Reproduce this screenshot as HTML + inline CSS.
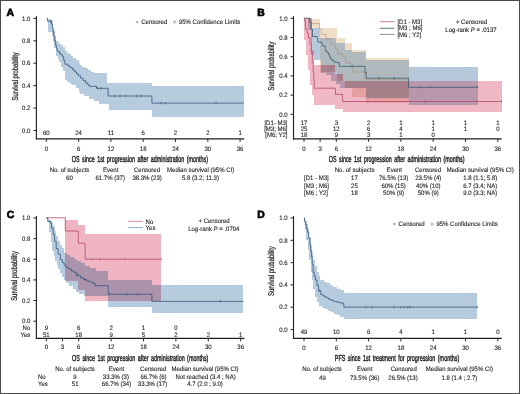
<!DOCTYPE html>
<html><head><meta charset="utf-8"><style>
html,body{margin:0;padding:0;background:#fff;}
.wrap{position:relative;width:520px;height:394px;overflow:hidden;background:#fff;}
.frame{position:absolute;left:0;top:0;width:518px;height:392px;border:1px solid #4a4a4a;}
svg{position:absolute;left:0;top:0;font-family:"Liberation Sans", sans-serif;text-rendering:geometricPrecision;will-change:transform;}
</style></head><body>
<div class="wrap"><svg width="520" height="394" viewBox="0 0 520 394">
<rect x="47.50" y="19.00" width="3.00" height="13.00" fill="#b7cbdf" shape-rendering="crispEdges"/>
<rect x="50.50" y="19.50" width="1.30" height="12.50" fill="#b7cbdf" shape-rendering="crispEdges"/>
<rect x="51.80" y="19.50" width="1.20" height="16.50" fill="#b7cbdf" shape-rendering="crispEdges"/>
<rect x="53.00" y="30.00" width="1.10" height="12.00" fill="#b7cbdf" shape-rendering="crispEdges"/>
<rect x="54.10" y="30.00" width="0.80" height="18.20" fill="#b7cbdf" shape-rendering="crispEdges"/>
<rect x="54.90" y="36.00" width="0.70" height="12.20" fill="#b7cbdf" shape-rendering="crispEdges"/>
<rect x="55.60" y="40.60" width="1.90" height="15.20" fill="#b7cbdf" shape-rendering="crispEdges"/>
<rect x="57.50" y="42.10" width="1.90" height="16.70" fill="#b7cbdf" shape-rendering="crispEdges"/>
<rect x="59.40" y="43.50" width="1.90" height="18.40" fill="#b7cbdf" shape-rendering="crispEdges"/>
<rect x="61.30" y="45.10" width="1.90" height="21.40" fill="#b7cbdf" shape-rendering="crispEdges"/>
<rect x="63.20" y="47.00" width="1.60" height="24.00" fill="#b7cbdf" shape-rendering="crispEdges"/>
<rect x="64.80" y="51.20" width="2.20" height="29.00" fill="#b7cbdf" shape-rendering="crispEdges"/>
<rect x="67.00" y="53.00" width="0.20" height="27.20" fill="#b7cbdf" shape-rendering="crispEdges"/>
<rect x="67.20" y="53.00" width="2.10" height="29.00" fill="#b7cbdf" shape-rendering="crispEdges"/>
<rect x="69.30" y="54.30" width="0.30" height="27.70" fill="#b7cbdf" shape-rendering="crispEdges"/>
<rect x="69.60" y="54.30" width="1.60" height="29.20" fill="#b7cbdf" shape-rendering="crispEdges"/>
<rect x="71.20" y="56.20" width="1.20" height="27.30" fill="#b7cbdf" shape-rendering="crispEdges"/>
<rect x="72.40" y="56.20" width="0.70" height="28.50" fill="#b7cbdf" shape-rendering="crispEdges"/>
<rect x="73.10" y="58.10" width="2.70" height="26.60" fill="#b7cbdf" shape-rendering="crispEdges"/>
<rect x="75.80" y="60.30" width="2.70" height="28.00" fill="#b7cbdf" shape-rendering="crispEdges"/>
<rect x="78.50" y="62.60" width="0.70" height="25.70" fill="#b7cbdf" shape-rendering="crispEdges"/>
<rect x="79.20" y="62.60" width="0.80" height="29.40" fill="#b7cbdf" shape-rendering="crispEdges"/>
<rect x="80.00" y="62.60" width="0.40" height="31.30" fill="#b7cbdf" shape-rendering="crispEdges"/>
<rect x="80.40" y="64.60" width="1.90" height="29.30" fill="#b7cbdf" shape-rendering="crispEdges"/>
<rect x="82.30" y="66.50" width="2.10" height="27.40" fill="#b7cbdf" shape-rendering="crispEdges"/>
<rect x="84.40" y="66.50" width="0.60" height="29.90" fill="#b7cbdf" shape-rendering="crispEdges"/>
<rect x="85.00" y="68.40" width="2.60" height="28.00" fill="#b7cbdf" shape-rendering="crispEdges"/>
<rect x="87.60" y="70.30" width="1.20" height="26.10" fill="#b7cbdf" shape-rendering="crispEdges"/>
<rect x="88.80" y="70.30" width="1.80" height="28.50" fill="#b7cbdf" shape-rendering="crispEdges"/>
<rect x="90.60" y="71.80" width="3.00" height="27.00" fill="#b7cbdf" shape-rendering="crispEdges"/>
<rect x="93.60" y="71.80" width="0.10" height="29.40" fill="#b7cbdf" shape-rendering="crispEdges"/>
<rect x="93.70" y="73.10" width="4.80" height="28.10" fill="#b7cbdf" shape-rendering="crispEdges"/>
<rect x="98.50" y="73.10" width="8.60" height="30.60" fill="#b7cbdf" shape-rendering="crispEdges"/>
<rect x="107.10" y="82.50" width="1.90" height="21.20" fill="#b7cbdf" shape-rendering="crispEdges"/>
<rect x="109.00" y="82.50" width="42.90" height="27.90" fill="#b7cbdf" shape-rendering="crispEdges"/>
<rect x="151.90" y="86.30" width="91.80" height="30.80" fill="#b7cbdf" shape-rendering="crispEdges"/>
<path d="M46.30,18.40 H47.50 V21.30 H51.50 V24.00 H52.40 V28.00 H53.20 V32.00 H53.80 V36.00 H54.70 V40.50 H55.60 V45.10 H56.30 V48.00 H57.10 V51.20 H59.40 V53.50 H61.00 V55.00 H62.50 V56.60 H63.70 V60.40 H64.80 V64.20 H67.80 V65.70 H69.30 V66.80 H70.80 V68.00 H72.70 V69.90 H74.60 V71.80 H76.50 V73.80 H78.40 V75.80 H80.70 V78.20 H83.10 V80.60 H85.50 V82.80 H87.90 V85.00 H89.50 V86.30 H96.50 V88.30 H108.10 V96.00 H151.90 V103.10 H243.70" fill="none" stroke="#2b5277" stroke-width="0.75"/>
<line x1="50.50" y1="20.00" x2="50.50" y2="22.60" stroke="#2b5277" stroke-width="0.55" />
<line x1="97.50" y1="87.00" x2="97.50" y2="89.60" stroke="#2b5277" stroke-width="0.55" />
<line x1="101.00" y1="87.00" x2="101.00" y2="89.60" stroke="#2b5277" stroke-width="0.55" />
<line x1="115.00" y1="94.70" x2="115.00" y2="97.30" stroke="#2b5277" stroke-width="0.55" />
<line x1="120.00" y1="94.70" x2="120.00" y2="97.30" stroke="#2b5277" stroke-width="0.55" />
<line x1="126.00" y1="94.70" x2="126.00" y2="97.30" stroke="#2b5277" stroke-width="0.55" />
<line x1="136.50" y1="94.70" x2="136.50" y2="97.30" stroke="#2b5277" stroke-width="0.55" />
<line x1="141.00" y1="94.70" x2="141.00" y2="97.30" stroke="#2b5277" stroke-width="0.55" />
<line x1="161.00" y1="101.80" x2="161.00" y2="104.40" stroke="#2b5277" stroke-width="0.55" />
<line x1="165.50" y1="101.80" x2="165.50" y2="104.40" stroke="#2b5277" stroke-width="0.55" />
<line x1="216.00" y1="101.80" x2="216.00" y2="104.40" stroke="#2b5277" stroke-width="0.55" />
<line x1="36.40" y1="16.20" x2="36.40" y2="139.20" stroke="#231f20" stroke-width="1.15" />
<line x1="33.40" y1="130.50" x2="36.40" y2="130.50" stroke="#231f20" stroke-width="0.95" />
<text transform="translate(30.40,132.75) scale(0.94,1)" text-anchor="end" font-size="6.4" fill="#231f20" stroke="#231f20" stroke-width="0.12" >0.0</text>
<line x1="33.40" y1="108.08" x2="36.40" y2="108.08" stroke="#231f20" stroke-width="0.95" />
<text transform="translate(30.40,110.33) scale(0.94,1)" text-anchor="end" font-size="6.4" fill="#231f20" stroke="#231f20" stroke-width="0.12" >0.2</text>
<line x1="33.40" y1="85.66" x2="36.40" y2="85.66" stroke="#231f20" stroke-width="0.95" />
<text transform="translate(30.40,87.91) scale(0.94,1)" text-anchor="end" font-size="6.4" fill="#231f20" stroke="#231f20" stroke-width="0.12" >0.4</text>
<line x1="33.40" y1="63.24" x2="36.40" y2="63.24" stroke="#231f20" stroke-width="0.95" />
<text transform="translate(30.40,65.49) scale(0.94,1)" text-anchor="end" font-size="6.4" fill="#231f20" stroke="#231f20" stroke-width="0.12" >0.6</text>
<line x1="33.40" y1="40.82" x2="36.40" y2="40.82" stroke="#231f20" stroke-width="0.95" />
<text transform="translate(30.40,43.07) scale(0.94,1)" text-anchor="end" font-size="6.4" fill="#231f20" stroke="#231f20" stroke-width="0.12" >0.8</text>
<line x1="33.40" y1="18.40" x2="36.40" y2="18.40" stroke="#231f20" stroke-width="0.95" />
<text transform="translate(30.40,20.65) scale(0.94,1)" text-anchor="end" font-size="6.4" fill="#231f20" stroke="#231f20" stroke-width="0.12" >1.0</text>
<line x1="35.85" y1="138.90" x2="244.20" y2="138.90" stroke="#231f20" stroke-width="1.15" />
<line x1="46.30" y1="138.90" x2="46.30" y2="141.90" stroke="#231f20" stroke-width="0.95" />
<text transform="translate(46.30,150.55) scale(0.94,1)" text-anchor="middle" font-size="6.4" fill="#231f20" stroke="#231f20" stroke-width="0.12" >0</text>
<line x1="78.60" y1="138.90" x2="78.60" y2="141.90" stroke="#231f20" stroke-width="0.95" />
<text transform="translate(78.60,150.55) scale(0.94,1)" text-anchor="middle" font-size="6.4" fill="#231f20" stroke="#231f20" stroke-width="0.12" >6</text>
<line x1="110.90" y1="138.90" x2="110.90" y2="141.90" stroke="#231f20" stroke-width="0.95" />
<text transform="translate(110.90,150.55) scale(0.94,1)" text-anchor="middle" font-size="6.4" fill="#231f20" stroke="#231f20" stroke-width="0.12" >12</text>
<line x1="143.20" y1="138.90" x2="143.20" y2="141.90" stroke="#231f20" stroke-width="0.95" />
<text transform="translate(143.20,150.55) scale(0.94,1)" text-anchor="middle" font-size="6.4" fill="#231f20" stroke="#231f20" stroke-width="0.12" >18</text>
<line x1="175.50" y1="138.90" x2="175.50" y2="141.90" stroke="#231f20" stroke-width="0.95" />
<text transform="translate(175.50,150.55) scale(0.94,1)" text-anchor="middle" font-size="6.4" fill="#231f20" stroke="#231f20" stroke-width="0.12" >24</text>
<line x1="207.80" y1="138.90" x2="207.80" y2="141.90" stroke="#231f20" stroke-width="0.95" />
<text transform="translate(207.80,150.55) scale(0.94,1)" text-anchor="middle" font-size="6.4" fill="#231f20" stroke="#231f20" stroke-width="0.12" >30</text>
<line x1="240.10" y1="138.90" x2="240.10" y2="141.90" stroke="#231f20" stroke-width="0.95" />
<text transform="translate(240.10,150.55) scale(0.94,1)" text-anchor="middle" font-size="6.4" fill="#231f20" stroke="#231f20" stroke-width="0.12" >36</text>
<text transform="translate(46.30,135.25) scale(0.94,1)" text-anchor="middle" font-size="6.4" fill="#231f20" stroke="#231f20" stroke-width="0.12" >60</text>
<text transform="translate(78.60,135.25) scale(0.94,1)" text-anchor="middle" font-size="6.4" fill="#231f20" stroke="#231f20" stroke-width="0.12" >24</text>
<text transform="translate(110.90,135.25) scale(0.94,1)" text-anchor="middle" font-size="6.4" fill="#231f20" stroke="#231f20" stroke-width="0.12" >11</text>
<text transform="translate(143.20,135.25) scale(0.94,1)" text-anchor="middle" font-size="6.4" fill="#231f20" stroke="#231f20" stroke-width="0.12" >6</text>
<text transform="translate(175.50,135.25) scale(0.94,1)" text-anchor="middle" font-size="6.4" fill="#231f20" stroke="#231f20" stroke-width="0.12" >2</text>
<text transform="translate(207.80,135.25) scale(0.94,1)" text-anchor="middle" font-size="6.4" fill="#231f20" stroke="#231f20" stroke-width="0.12" >2</text>
<text transform="translate(240.10,135.25) scale(0.94,1)" text-anchor="middle" font-size="6.4" fill="#231f20" stroke="#231f20" stroke-width="0.12" >1</text>
<text transform="translate(17.60,76.40) rotate(-90)" x="-24.00" y="0" font-size="8.4" textLength="48.00" lengthAdjust="spacingAndGlyphs" fill="#231f20" stroke="#231f20" stroke-width="0.25">Survival probability</text>
<text x="71.80" y="162.05" font-size="8.7" textLength="136.30" lengthAdjust="spacingAndGlyphs" word-spacing="1.6" fill="#231f20" stroke="#231f20" stroke-width="0.42" font-weight="normal">OS since 1st progression after administration (months)</text>
<text x="6.50" y="15.60" font-size="10.4" font-weight="bold" fill="#000" stroke="#000" stroke-width="0.7">A</text>
<line x1="137.20" y1="20.90" x2="137.20" y2="23.30" stroke="#2b5277" stroke-width="0.5" />
<line x1="136.00" y1="22.10" x2="138.40" y2="22.10" stroke="#2b5277" stroke-width="0.5" />
<text transform="translate(141.20,24.35) scale(0.94,1)" text-anchor="start" font-size="6.4" fill="#231f20" stroke="#231f20" stroke-width="0.12" >Censored</text>
<rect x="173.1" y="20.5" width="3.0" height="3.0" fill="#b7cbdf"/>
<text transform="translate(178.90,24.35) scale(0.94,1)" text-anchor="start" font-size="6.4" fill="#231f20" stroke="#231f20" stroke-width="0.12" >95% Confidence Limits</text>
<text transform="translate(69.50,171.65) scale(0.94,1)" text-anchor="middle" font-size="6.4" fill="#231f20" stroke="#231f20" stroke-width="0.12" >No. of subjects</text>
<text transform="translate(110.70,171.65) scale(0.94,1)" text-anchor="middle" font-size="6.4" fill="#231f20" stroke="#231f20" stroke-width="0.12" >Event</text>
<text transform="translate(147.00,171.65) scale(0.94,1)" text-anchor="middle" font-size="6.4" fill="#231f20" stroke="#231f20" stroke-width="0.12" >Censored</text>
<text transform="translate(200.60,171.65) scale(0.94,1)" text-anchor="middle" font-size="6.4" fill="#231f20" stroke="#231f20" stroke-width="0.12" >Median survival (95% CI)</text>
<text transform="translate(69.40,179.85) scale(0.94,1)" text-anchor="middle" font-size="6.4" fill="#231f20" stroke="#231f20" stroke-width="0.12" >60</text>
<text transform="translate(110.20,179.85) scale(0.94,1)" text-anchor="middle" font-size="6.4" fill="#231f20" stroke="#231f20" stroke-width="0.12" >61.7% (37)</text>
<text transform="translate(147.10,179.85) scale(0.94,1)" text-anchor="middle" font-size="6.4" fill="#231f20" stroke="#231f20" stroke-width="0.12" >38.3% (23)</text>
<text transform="translate(200.40,179.85) scale(0.94,1)" text-anchor="middle" font-size="6.4" fill="#231f20" stroke="#231f20" stroke-width="0.12" >5.8 (3.2; 11.3)</text>
<rect x="304.00" y="217.80" width="1.00" height="3.80" fill="#b7cbdf" shape-rendering="crispEdges"/>
<rect x="305.00" y="217.80" width="0.20" height="12.20" fill="#b7cbdf" shape-rendering="crispEdges"/>
<rect x="305.20" y="220.50" width="0.90" height="9.50" fill="#b7cbdf" shape-rendering="crispEdges"/>
<rect x="306.10" y="220.50" width="0.40" height="19.40" fill="#b7cbdf" shape-rendering="crispEdges"/>
<rect x="306.50" y="224.00" width="1.10" height="15.90" fill="#b7cbdf" shape-rendering="crispEdges"/>
<rect x="307.60" y="224.00" width="0.20" height="26.00" fill="#b7cbdf" shape-rendering="crispEdges"/>
<rect x="307.80" y="229.20" width="1.30" height="20.80" fill="#b7cbdf" shape-rendering="crispEdges"/>
<rect x="309.10" y="229.20" width="0.10" height="30.50" fill="#b7cbdf" shape-rendering="crispEdges"/>
<rect x="309.20" y="236.50" width="1.40" height="23.20" fill="#b7cbdf" shape-rendering="crispEdges"/>
<rect x="310.60" y="244.50" width="0.10" height="15.20" fill="#b7cbdf" shape-rendering="crispEdges"/>
<rect x="310.70" y="244.50" width="0.80" height="27.40" fill="#b7cbdf" shape-rendering="crispEdges"/>
<rect x="311.50" y="244.50" width="0.40" height="35.50" fill="#b7cbdf" shape-rendering="crispEdges"/>
<rect x="311.90" y="252.00" width="1.30" height="28.00" fill="#b7cbdf" shape-rendering="crispEdges"/>
<rect x="313.20" y="260.00" width="0.20" height="20.00" fill="#b7cbdf" shape-rendering="crispEdges"/>
<rect x="313.40" y="260.00" width="1.40" height="28.50" fill="#b7cbdf" shape-rendering="crispEdges"/>
<rect x="314.80" y="266.00" width="0.60" height="22.50" fill="#b7cbdf" shape-rendering="crispEdges"/>
<rect x="315.40" y="266.00" width="1.10" height="30.90" fill="#b7cbdf" shape-rendering="crispEdges"/>
<rect x="316.50" y="272.30" width="0.80" height="24.60" fill="#b7cbdf" shape-rendering="crispEdges"/>
<rect x="317.30" y="272.30" width="1.20" height="29.20" fill="#b7cbdf" shape-rendering="crispEdges"/>
<rect x="318.50" y="276.00" width="0.70" height="25.50" fill="#b7cbdf" shape-rendering="crispEdges"/>
<rect x="319.20" y="276.00" width="0.80" height="30.20" fill="#b7cbdf" shape-rendering="crispEdges"/>
<rect x="320.00" y="280.00" width="2.00" height="26.20" fill="#b7cbdf" shape-rendering="crispEdges"/>
<rect x="322.00" y="280.00" width="1.50" height="27.70" fill="#b7cbdf" shape-rendering="crispEdges"/>
<rect x="323.50" y="281.60" width="1.10" height="26.10" fill="#b7cbdf" shape-rendering="crispEdges"/>
<rect x="324.60" y="281.60" width="2.30" height="27.60" fill="#b7cbdf" shape-rendering="crispEdges"/>
<rect x="326.90" y="283.10" width="0.80" height="26.10" fill="#b7cbdf" shape-rendering="crispEdges"/>
<rect x="327.70" y="283.10" width="2.30" height="27.60" fill="#b7cbdf" shape-rendering="crispEdges"/>
<rect x="330.00" y="285.00" width="0.80" height="25.70" fill="#b7cbdf" shape-rendering="crispEdges"/>
<rect x="330.80" y="285.00" width="2.30" height="27.30" fill="#b7cbdf" shape-rendering="crispEdges"/>
<rect x="333.10" y="286.90" width="0.80" height="25.40" fill="#b7cbdf" shape-rendering="crispEdges"/>
<rect x="333.90" y="286.90" width="3.00" height="26.60" fill="#b7cbdf" shape-rendering="crispEdges"/>
<rect x="336.90" y="286.90" width="0.10" height="27.70" fill="#b7cbdf" shape-rendering="crispEdges"/>
<rect x="337.00" y="288.50" width="3.30" height="26.10" fill="#b7cbdf" shape-rendering="crispEdges"/>
<rect x="340.30" y="288.50" width="0.50" height="28.10" fill="#b7cbdf" shape-rendering="crispEdges"/>
<rect x="340.80" y="290.00" width="3.00" height="26.60" fill="#b7cbdf" shape-rendering="crispEdges"/>
<rect x="343.80" y="293.20" width="132.70" height="25.40" fill="#b7cbdf" shape-rendering="crispEdges"/>
<path d="M303.80,217.80 H304.50 V221.00 H305.30 V224.70 H306.40 V228.50 H307.60 V232.30 H308.70 V238.40 H309.90 V244.50 H310.60 V250.50 H311.40 V256.60 H312.20 V264.40 H313.10 V272.30 H314.20 V276.10 H315.40 V280.00 H317.00 V285.40 H318.50 V290.80 H320.80 V294.60 H322.70 V295.70 H324.60 V296.90 H326.50 V298.00 H328.50 V299.20 H331.10 V300.30 H333.80 V301.50 H337.30 V302.30 H340.80 V303.10 H343.80 V307.10 H477.40" fill="none" stroke="#2b5277" stroke-width="0.75"/>
<line x1="319.50" y1="289.50" x2="319.50" y2="292.10" stroke="#2b5277" stroke-width="0.55" />
<line x1="366.00" y1="305.80" x2="366.00" y2="308.40" stroke="#2b5277" stroke-width="0.55" />
<line x1="372.00" y1="305.80" x2="372.00" y2="308.40" stroke="#2b5277" stroke-width="0.55" />
<line x1="393.80" y1="305.80" x2="393.80" y2="308.40" stroke="#2b5277" stroke-width="0.55" />
<line x1="400.80" y1="305.80" x2="400.80" y2="308.40" stroke="#2b5277" stroke-width="0.55" />
<line x1="404.20" y1="305.80" x2="404.20" y2="308.40" stroke="#2b5277" stroke-width="0.55" />
<line x1="407.70" y1="305.80" x2="407.70" y2="308.40" stroke="#2b5277" stroke-width="0.55" />
<line x1="410.00" y1="305.80" x2="410.00" y2="308.40" stroke="#2b5277" stroke-width="0.55" />
<line x1="477.40" y1="305.80" x2="477.40" y2="308.40" stroke="#2b5277" stroke-width="0.55" />
<line x1="293.50" y1="216.00" x2="293.50" y2="339.00" stroke="#231f20" stroke-width="1.15" />
<line x1="290.50" y1="329.50" x2="293.50" y2="329.50" stroke="#231f20" stroke-width="0.95" />
<text transform="translate(287.50,331.75) scale(0.94,1)" text-anchor="end" font-size="6.4" fill="#231f20" stroke="#231f20" stroke-width="0.12" >0.0</text>
<line x1="290.50" y1="307.20" x2="293.50" y2="307.20" stroke="#231f20" stroke-width="0.95" />
<text transform="translate(287.50,309.45) scale(0.94,1)" text-anchor="end" font-size="6.4" fill="#231f20" stroke="#231f20" stroke-width="0.12" >0.2</text>
<line x1="290.50" y1="284.90" x2="293.50" y2="284.90" stroke="#231f20" stroke-width="0.95" />
<text transform="translate(287.50,287.15) scale(0.94,1)" text-anchor="end" font-size="6.4" fill="#231f20" stroke="#231f20" stroke-width="0.12" >0.4</text>
<line x1="290.50" y1="262.60" x2="293.50" y2="262.60" stroke="#231f20" stroke-width="0.95" />
<text transform="translate(287.50,264.85) scale(0.94,1)" text-anchor="end" font-size="6.4" fill="#231f20" stroke="#231f20" stroke-width="0.12" >0.6</text>
<line x1="290.50" y1="240.30" x2="293.50" y2="240.30" stroke="#231f20" stroke-width="0.95" />
<text transform="translate(287.50,242.55) scale(0.94,1)" text-anchor="end" font-size="6.4" fill="#231f20" stroke="#231f20" stroke-width="0.12" >0.8</text>
<line x1="290.50" y1="218.00" x2="293.50" y2="218.00" stroke="#231f20" stroke-width="0.95" />
<text transform="translate(287.50,220.25) scale(0.94,1)" text-anchor="end" font-size="6.4" fill="#231f20" stroke="#231f20" stroke-width="0.12" >1.0</text>
<line x1="292.95" y1="338.40" x2="501.70" y2="338.40" stroke="#231f20" stroke-width="1.15" />
<line x1="304.00" y1="338.40" x2="304.00" y2="341.40" stroke="#231f20" stroke-width="0.95" />
<text transform="translate(304.00,349.75) scale(0.94,1)" text-anchor="middle" font-size="6.4" fill="#231f20" stroke="#231f20" stroke-width="0.12" >0</text>
<line x1="336.30" y1="338.40" x2="336.30" y2="341.40" stroke="#231f20" stroke-width="0.95" />
<text transform="translate(336.30,349.75) scale(0.94,1)" text-anchor="middle" font-size="6.4" fill="#231f20" stroke="#231f20" stroke-width="0.12" >6</text>
<line x1="368.60" y1="338.40" x2="368.60" y2="341.40" stroke="#231f20" stroke-width="0.95" />
<text transform="translate(368.60,349.75) scale(0.94,1)" text-anchor="middle" font-size="6.4" fill="#231f20" stroke="#231f20" stroke-width="0.12" >12</text>
<line x1="400.90" y1="338.40" x2="400.90" y2="341.40" stroke="#231f20" stroke-width="0.95" />
<text transform="translate(400.90,349.75) scale(0.94,1)" text-anchor="middle" font-size="6.4" fill="#231f20" stroke="#231f20" stroke-width="0.12" >18</text>
<line x1="433.20" y1="338.40" x2="433.20" y2="341.40" stroke="#231f20" stroke-width="0.95" />
<text transform="translate(433.20,349.75) scale(0.94,1)" text-anchor="middle" font-size="6.4" fill="#231f20" stroke="#231f20" stroke-width="0.12" >24</text>
<line x1="465.50" y1="338.40" x2="465.50" y2="341.40" stroke="#231f20" stroke-width="0.95" />
<text transform="translate(465.50,349.75) scale(0.94,1)" text-anchor="middle" font-size="6.4" fill="#231f20" stroke="#231f20" stroke-width="0.12" >30</text>
<line x1="497.80" y1="338.40" x2="497.80" y2="341.40" stroke="#231f20" stroke-width="0.95" />
<text transform="translate(497.80,349.75) scale(0.94,1)" text-anchor="middle" font-size="6.4" fill="#231f20" stroke="#231f20" stroke-width="0.12" >36</text>
<text transform="translate(304.00,334.35) scale(0.94,1)" text-anchor="middle" font-size="6.4" fill="#231f20" stroke="#231f20" stroke-width="0.12" >49</text>
<text transform="translate(336.30,334.35) scale(0.94,1)" text-anchor="middle" font-size="6.4" fill="#231f20" stroke="#231f20" stroke-width="0.12" >10</text>
<text transform="translate(368.60,334.35) scale(0.94,1)" text-anchor="middle" font-size="6.4" fill="#231f20" stroke="#231f20" stroke-width="0.12" >6</text>
<text transform="translate(400.90,334.35) scale(0.94,1)" text-anchor="middle" font-size="6.4" fill="#231f20" stroke="#231f20" stroke-width="0.12" >4</text>
<text transform="translate(433.20,334.35) scale(0.94,1)" text-anchor="middle" font-size="6.4" fill="#231f20" stroke="#231f20" stroke-width="0.12" >1</text>
<text transform="translate(465.50,334.35) scale(0.94,1)" text-anchor="middle" font-size="6.4" fill="#231f20" stroke="#231f20" stroke-width="0.12" >1</text>
<text transform="translate(497.80,334.35) scale(0.94,1)" text-anchor="middle" font-size="6.4" fill="#231f20" stroke="#231f20" stroke-width="0.12" >0</text>
<text transform="translate(274.10,271.10) rotate(-90)" x="-24.90" y="0" font-size="8.4" textLength="49.80" lengthAdjust="spacingAndGlyphs" fill="#231f20" stroke="#231f20" stroke-width="0.25">Survival probability</text>
<text x="334.80" y="360.85" font-size="8.7" textLength="124.40" lengthAdjust="spacingAndGlyphs" word-spacing="1.6" fill="#231f20" stroke="#231f20" stroke-width="0.42" font-weight="normal">PFS since 1st treatment for progression (months)</text>
<text x="257.30" y="218.10" font-size="10.4" font-weight="bold" fill="#000" stroke="#000" stroke-width="0.7">D</text>
<line x1="394.40" y1="222.80" x2="394.40" y2="225.20" stroke="#2b5277" stroke-width="0.5" />
<line x1="393.20" y1="224.00" x2="395.60" y2="224.00" stroke="#2b5277" stroke-width="0.5" />
<text transform="translate(398.60,226.25) scale(0.94,1)" text-anchor="start" font-size="6.4" fill="#231f20" stroke="#231f20" stroke-width="0.12" >Censored</text>
<rect x="430.7" y="222.5" width="3.0" height="3.0" fill="#b7cbdf"/>
<text transform="translate(436.40,226.25) scale(0.94,1)" text-anchor="start" font-size="6.4" fill="#231f20" stroke="#231f20" stroke-width="0.12" >95% Confidence Limits</text>
<text transform="translate(322.00,371.15) scale(0.94,1)" text-anchor="middle" font-size="6.4" fill="#231f20" stroke="#231f20" stroke-width="0.12" >No. of subjects</text>
<text transform="translate(364.70,371.15) scale(0.94,1)" text-anchor="middle" font-size="6.4" fill="#231f20" stroke="#231f20" stroke-width="0.12" >Event</text>
<text transform="translate(403.70,371.15) scale(0.94,1)" text-anchor="middle" font-size="6.4" fill="#231f20" stroke="#231f20" stroke-width="0.12" >Censored</text>
<text transform="translate(459.40,371.15) scale(0.94,1)" text-anchor="middle" font-size="6.4" fill="#231f20" stroke="#231f20" stroke-width="0.12" >Median survival (95% CI)</text>
<text transform="translate(322.40,379.65) scale(0.94,1)" text-anchor="middle" font-size="6.4" fill="#231f20" stroke="#231f20" stroke-width="0.12" >49</text>
<text transform="translate(364.70,379.65) scale(0.94,1)" text-anchor="middle" font-size="6.4" fill="#231f20" stroke="#231f20" stroke-width="0.12" >73.5% (36)</text>
<text transform="translate(403.00,379.65) scale(0.94,1)" text-anchor="middle" font-size="6.4" fill="#231f20" stroke="#231f20" stroke-width="0.12" >26.5% (13)</text>
<text transform="translate(459.40,379.65) scale(0.94,1)" text-anchor="middle" font-size="6.4" fill="#231f20" stroke="#231f20" stroke-width="0.12" >1.8 (1.4 ; 2.7)</text>
<rect x="47.70" y="218.50" width="0.90" height="3.60" fill="#b7cbdf" shape-rendering="crispEdges"/>
<rect x="48.60" y="218.50" width="0.50" height="8.50" fill="#b7cbdf" shape-rendering="crispEdges"/>
<rect x="49.10" y="220.10" width="1.50" height="12.20" fill="#b7cbdf" shape-rendering="crispEdges"/>
<rect x="50.60" y="220.10" width="0.40" height="21.40" fill="#b7cbdf" shape-rendering="crispEdges"/>
<rect x="51.00" y="223.00" width="1.10" height="18.50" fill="#b7cbdf" shape-rendering="crispEdges"/>
<rect x="52.10" y="223.00" width="1.00" height="27.60" fill="#b7cbdf" shape-rendering="crispEdges"/>
<rect x="53.10" y="226.20" width="0.50" height="24.40" fill="#b7cbdf" shape-rendering="crispEdges"/>
<rect x="53.60" y="226.20" width="1.00" height="29.40" fill="#b7cbdf" shape-rendering="crispEdges"/>
<rect x="54.60" y="231.30" width="0.60" height="24.30" fill="#b7cbdf" shape-rendering="crispEdges"/>
<rect x="55.20" y="231.30" width="1.00" height="29.40" fill="#b7cbdf" shape-rendering="crispEdges"/>
<rect x="56.20" y="236.40" width="0.50" height="24.30" fill="#b7cbdf" shape-rendering="crispEdges"/>
<rect x="56.70" y="236.40" width="1.50" height="28.40" fill="#b7cbdf" shape-rendering="crispEdges"/>
<rect x="58.20" y="240.50" width="2.10" height="28.40" fill="#b7cbdf" shape-rendering="crispEdges"/>
<rect x="60.30" y="244.50" width="2.00" height="28.50" fill="#b7cbdf" shape-rendering="crispEdges"/>
<rect x="62.30" y="248.00" width="2.00" height="29.00" fill="#b7cbdf" shape-rendering="crispEdges"/>
<rect x="64.30" y="252.60" width="1.00" height="27.40" fill="#b7cbdf" shape-rendering="crispEdges"/>
<rect x="65.30" y="220.30" width="1.10" height="32.30" fill="#efb5c3" shape-rendering="crispEdges"/>
<rect x="65.30" y="252.60" width="1.10" height="27.40" fill="#ab94ab" shape-rendering="crispEdges"/>
<rect x="65.30" y="280.00" width="1.10" height="1.00" fill="#efb5c3" shape-rendering="crispEdges"/>
<rect x="66.40" y="220.30" width="1.00" height="32.30" fill="#efb5c3" shape-rendering="crispEdges"/>
<rect x="66.40" y="252.60" width="1.00" height="28.40" fill="#ab94ab" shape-rendering="crispEdges"/>
<rect x="66.40" y="281.00" width="1.00" height="2.10" fill="#b7cbdf" shape-rendering="crispEdges"/>
<rect x="67.40" y="220.30" width="2.00" height="34.40" fill="#efb5c3" shape-rendering="crispEdges"/>
<rect x="67.40" y="254.70" width="2.00" height="26.30" fill="#ab94ab" shape-rendering="crispEdges"/>
<rect x="67.40" y="281.00" width="2.00" height="2.10" fill="#b7cbdf" shape-rendering="crispEdges"/>
<rect x="69.40" y="220.30" width="1.00" height="34.40" fill="#efb5c3" shape-rendering="crispEdges"/>
<rect x="69.40" y="254.70" width="1.00" height="26.30" fill="#ab94ab" shape-rendering="crispEdges"/>
<rect x="69.40" y="281.00" width="1.00" height="5.10" fill="#b7cbdf" shape-rendering="crispEdges"/>
<rect x="70.40" y="220.30" width="2.10" height="36.40" fill="#efb5c3" shape-rendering="crispEdges"/>
<rect x="70.40" y="256.70" width="2.10" height="24.30" fill="#ab94ab" shape-rendering="crispEdges"/>
<rect x="70.40" y="281.00" width="2.10" height="5.10" fill="#b7cbdf" shape-rendering="crispEdges"/>
<rect x="72.50" y="220.30" width="1.00" height="36.40" fill="#efb5c3" shape-rendering="crispEdges"/>
<rect x="72.50" y="256.70" width="1.00" height="24.30" fill="#ab94ab" shape-rendering="crispEdges"/>
<rect x="72.50" y="281.00" width="1.00" height="8.20" fill="#b7cbdf" shape-rendering="crispEdges"/>
<rect x="73.50" y="220.30" width="2.00" height="38.40" fill="#efb5c3" shape-rendering="crispEdges"/>
<rect x="73.50" y="258.70" width="2.00" height="22.30" fill="#ab94ab" shape-rendering="crispEdges"/>
<rect x="73.50" y="281.00" width="2.00" height="8.20" fill="#b7cbdf" shape-rendering="crispEdges"/>
<rect x="75.50" y="220.30" width="1.00" height="38.40" fill="#efb5c3" shape-rendering="crispEdges"/>
<rect x="75.50" y="258.70" width="1.00" height="22.30" fill="#ab94ab" shape-rendering="crispEdges"/>
<rect x="75.50" y="281.00" width="1.00" height="10.60" fill="#b7cbdf" shape-rendering="crispEdges"/>
<rect x="76.50" y="220.30" width="1.00" height="40.40" fill="#efb5c3" shape-rendering="crispEdges"/>
<rect x="76.50" y="260.70" width="1.00" height="20.30" fill="#ab94ab" shape-rendering="crispEdges"/>
<rect x="76.50" y="281.00" width="1.00" height="10.60" fill="#b7cbdf" shape-rendering="crispEdges"/>
<rect x="77.50" y="225.40" width="0.80" height="35.30" fill="#efb5c3" shape-rendering="crispEdges"/>
<rect x="77.50" y="260.70" width="0.80" height="20.30" fill="#ab94ab" shape-rendering="crispEdges"/>
<rect x="77.50" y="281.00" width="0.80" height="10.60" fill="#b7cbdf" shape-rendering="crispEdges"/>
<rect x="78.30" y="225.40" width="0.30" height="35.30" fill="#efb5c3" shape-rendering="crispEdges"/>
<rect x="78.30" y="260.70" width="0.30" height="29.30" fill="#ab94ab" shape-rendering="crispEdges"/>
<rect x="78.30" y="290.00" width="0.30" height="1.60" fill="#b7cbdf" shape-rendering="crispEdges"/>
<rect x="78.60" y="225.40" width="1.90" height="35.30" fill="#efb5c3" shape-rendering="crispEdges"/>
<rect x="78.60" y="260.70" width="1.90" height="29.30" fill="#ab94ab" shape-rendering="crispEdges"/>
<rect x="78.60" y="290.00" width="1.90" height="4.00" fill="#b7cbdf" shape-rendering="crispEdges"/>
<rect x="80.50" y="225.40" width="3.50" height="37.60" fill="#efb5c3" shape-rendering="crispEdges"/>
<rect x="80.50" y="263.00" width="3.50" height="27.00" fill="#ab94ab" shape-rendering="crispEdges"/>
<rect x="80.50" y="290.00" width="3.50" height="4.00" fill="#b7cbdf" shape-rendering="crispEdges"/>
<rect x="84.00" y="225.40" width="0.60" height="37.60" fill="#efb5c3" shape-rendering="crispEdges"/>
<rect x="84.00" y="263.00" width="0.60" height="27.00" fill="#ab94ab" shape-rendering="crispEdges"/>
<rect x="84.00" y="290.00" width="0.60" height="5.50" fill="#b7cbdf" shape-rendering="crispEdges"/>
<rect x="84.60" y="225.40" width="0.20" height="40.10" fill="#efb5c3" shape-rendering="crispEdges"/>
<rect x="84.60" y="265.50" width="0.20" height="24.50" fill="#ab94ab" shape-rendering="crispEdges"/>
<rect x="84.60" y="290.00" width="0.20" height="5.50" fill="#b7cbdf" shape-rendering="crispEdges"/>
<rect x="84.80" y="233.50" width="0.30" height="32.00" fill="#efb5c3" shape-rendering="crispEdges"/>
<rect x="84.80" y="265.50" width="0.30" height="24.50" fill="#ab94ab" shape-rendering="crispEdges"/>
<rect x="84.80" y="290.00" width="0.30" height="5.50" fill="#b7cbdf" shape-rendering="crispEdges"/>
<rect x="85.10" y="233.50" width="4.90" height="32.00" fill="#efb5c3" shape-rendering="crispEdges"/>
<rect x="85.10" y="265.50" width="4.90" height="30.00" fill="#ab94ab" shape-rendering="crispEdges"/>
<rect x="85.10" y="295.50" width="4.90" height="5.20" fill="#efb5c3" shape-rendering="crispEdges"/>
<rect x="90.00" y="233.50" width="5.90" height="34.50" fill="#efb5c3" shape-rendering="crispEdges"/>
<rect x="90.00" y="268.00" width="5.90" height="27.50" fill="#ab94ab" shape-rendering="crispEdges"/>
<rect x="90.00" y="295.50" width="5.90" height="5.20" fill="#efb5c3" shape-rendering="crispEdges"/>
<rect x="95.90" y="233.50" width="12.40" height="37.00" fill="#efb5c3" shape-rendering="crispEdges"/>
<rect x="95.90" y="270.50" width="12.40" height="25.00" fill="#ab94ab" shape-rendering="crispEdges"/>
<rect x="95.90" y="295.50" width="12.40" height="5.20" fill="#efb5c3" shape-rendering="crispEdges"/>
<rect x="108.30" y="233.50" width="43.60" height="46.90" fill="#efb5c3" shape-rendering="crispEdges"/>
<rect x="108.30" y="280.40" width="43.60" height="20.30" fill="#ab94ab" shape-rendering="crispEdges"/>
<rect x="108.30" y="300.70" width="43.60" height="6.20" fill="#b7cbdf" shape-rendering="crispEdges"/>
<rect x="151.90" y="233.50" width="9.40" height="51.50" fill="#efb5c3" shape-rendering="crispEdges"/>
<rect x="151.90" y="285.00" width="9.40" height="15.70" fill="#ab94ab" shape-rendering="crispEdges"/>
<rect x="151.90" y="300.70" width="9.40" height="12.30" fill="#b7cbdf" shape-rendering="crispEdges"/>
<rect x="161.30" y="285.00" width="82.10" height="28.00" fill="#b7cbdf" shape-rendering="crispEdges"/>
<path d="M46.30,217.80 H65.30 V231.00 H78.30 V243.20 H85.10 V259.20 H161.30" fill="none" stroke="#b0436a" stroke-width="0.75"/>
<line x1="91.60" y1="257.90" x2="91.60" y2="260.50" stroke="#b0436a" stroke-width="0.55" />
<line x1="100.00" y1="257.90" x2="100.00" y2="260.50" stroke="#b0436a" stroke-width="0.55" />
<line x1="125.00" y1="257.90" x2="125.00" y2="260.50" stroke="#b0436a" stroke-width="0.55" />
<line x1="161.30" y1="257.90" x2="161.30" y2="260.50" stroke="#b0436a" stroke-width="0.55" />
<path d="M46.30,217.80 H47.70 V221.50 H50.10 V222.10 H51.60 V228.20 H53.10 V234.30 H54.60 V241.50 H56.20 V248.60 H58.20 V254.20 H60.30 V259.70 H62.30 V262.80 H64.30 V265.80 H66.30 V267.30 H68.40 V268.90 H71.40 V271.00 H74.50 V273.00 H77.50 V275.50 H80.60 V278.00 H83.60 V279.50 H86.70 V281.00 H89.70 V282.00 H92.80 V283.10 H95.00 V285.70 H108.30 V294.20 H151.90 V301.40 H243.40" fill="none" stroke="#2b5277" stroke-width="0.75"/>
<line x1="50.10" y1="220.80" x2="50.10" y2="223.40" stroke="#2b5277" stroke-width="0.55" />
<line x1="76.30" y1="274.20" x2="76.30" y2="276.80" stroke="#2b5277" stroke-width="0.55" />
<line x1="84.60" y1="278.20" x2="84.60" y2="280.80" stroke="#2b5277" stroke-width="0.55" />
<line x1="109.70" y1="292.90" x2="109.70" y2="295.50" stroke="#2b5277" stroke-width="0.55" />
<line x1="126.50" y1="292.90" x2="126.50" y2="295.50" stroke="#2b5277" stroke-width="0.55" />
<line x1="137.60" y1="292.90" x2="137.60" y2="295.50" stroke="#2b5277" stroke-width="0.55" />
<line x1="220.60" y1="300.10" x2="220.60" y2="302.70" stroke="#2b5277" stroke-width="0.55" />
<line x1="36.40" y1="216.00" x2="36.40" y2="339.00" stroke="#231f20" stroke-width="1.15" />
<line x1="33.40" y1="321.20" x2="36.40" y2="321.20" stroke="#231f20" stroke-width="0.95" />
<text transform="translate(30.40,323.45) scale(0.94,1)" text-anchor="end" font-size="6.4" fill="#231f20" stroke="#231f20" stroke-width="0.12" >0.0</text>
<line x1="33.40" y1="300.56" x2="36.40" y2="300.56" stroke="#231f20" stroke-width="0.95" />
<text transform="translate(30.40,302.81) scale(0.94,1)" text-anchor="end" font-size="6.4" fill="#231f20" stroke="#231f20" stroke-width="0.12" >0.2</text>
<line x1="33.40" y1="279.92" x2="36.40" y2="279.92" stroke="#231f20" stroke-width="0.95" />
<text transform="translate(30.40,282.17) scale(0.94,1)" text-anchor="end" font-size="6.4" fill="#231f20" stroke="#231f20" stroke-width="0.12" >0.4</text>
<line x1="33.40" y1="259.28" x2="36.40" y2="259.28" stroke="#231f20" stroke-width="0.95" />
<text transform="translate(30.40,261.53) scale(0.94,1)" text-anchor="end" font-size="6.4" fill="#231f20" stroke="#231f20" stroke-width="0.12" >0.6</text>
<line x1="33.40" y1="238.64" x2="36.40" y2="238.64" stroke="#231f20" stroke-width="0.95" />
<text transform="translate(30.40,240.89) scale(0.94,1)" text-anchor="end" font-size="6.4" fill="#231f20" stroke="#231f20" stroke-width="0.12" >0.8</text>
<line x1="33.40" y1="218.00" x2="36.40" y2="218.00" stroke="#231f20" stroke-width="0.95" />
<text transform="translate(30.40,220.25) scale(0.94,1)" text-anchor="end" font-size="6.4" fill="#231f20" stroke="#231f20" stroke-width="0.12" >1.0</text>
<line x1="35.85" y1="338.40" x2="244.50" y2="338.40" stroke="#231f20" stroke-width="1.15" />
<line x1="46.30" y1="338.40" x2="46.30" y2="341.40" stroke="#231f20" stroke-width="0.95" />
<text transform="translate(46.30,349.45) scale(0.94,1)" text-anchor="middle" font-size="6.4" fill="#231f20" stroke="#231f20" stroke-width="0.12" >0</text>
<line x1="62.50" y1="338.40" x2="62.50" y2="341.40" stroke="#231f20" stroke-width="0.95" />
<text transform="translate(62.50,349.45) scale(0.94,1)" text-anchor="middle" font-size="6.4" fill="#231f20" stroke="#231f20" stroke-width="0.12" >3</text>
<line x1="78.70" y1="338.40" x2="78.70" y2="341.40" stroke="#231f20" stroke-width="0.95" />
<text transform="translate(78.70,349.45) scale(0.94,1)" text-anchor="middle" font-size="6.4" fill="#231f20" stroke="#231f20" stroke-width="0.12" >6</text>
<line x1="111.10" y1="338.40" x2="111.10" y2="341.40" stroke="#231f20" stroke-width="0.95" />
<text transform="translate(111.10,349.45) scale(0.94,1)" text-anchor="middle" font-size="6.4" fill="#231f20" stroke="#231f20" stroke-width="0.12" >12</text>
<line x1="143.50" y1="338.40" x2="143.50" y2="341.40" stroke="#231f20" stroke-width="0.95" />
<text transform="translate(143.50,349.45) scale(0.94,1)" text-anchor="middle" font-size="6.4" fill="#231f20" stroke="#231f20" stroke-width="0.12" >18</text>
<line x1="175.90" y1="338.40" x2="175.90" y2="341.40" stroke="#231f20" stroke-width="0.95" />
<text transform="translate(175.90,349.45) scale(0.94,1)" text-anchor="middle" font-size="6.4" fill="#231f20" stroke="#231f20" stroke-width="0.12" >24</text>
<line x1="208.30" y1="338.40" x2="208.30" y2="341.40" stroke="#231f20" stroke-width="0.95" />
<text transform="translate(208.30,349.45) scale(0.94,1)" text-anchor="middle" font-size="6.4" fill="#231f20" stroke="#231f20" stroke-width="0.12" >30</text>
<line x1="240.70" y1="338.40" x2="240.70" y2="341.40" stroke="#231f20" stroke-width="0.95" />
<text transform="translate(240.70,349.45) scale(0.94,1)" text-anchor="middle" font-size="6.4" fill="#231f20" stroke="#231f20" stroke-width="0.12" >36</text>
<text transform="translate(46.30,330.45) scale(0.94,1)" text-anchor="middle" font-size="6.4" fill="#231f20" stroke="#231f20" stroke-width="0.12" >9</text>
<text transform="translate(78.70,330.45) scale(0.94,1)" text-anchor="middle" font-size="6.4" fill="#231f20" stroke="#231f20" stroke-width="0.12" >6</text>
<text transform="translate(111.10,330.45) scale(0.94,1)" text-anchor="middle" font-size="6.4" fill="#231f20" stroke="#231f20" stroke-width="0.12" >2</text>
<text transform="translate(143.50,330.45) scale(0.94,1)" text-anchor="middle" font-size="6.4" fill="#231f20" stroke="#231f20" stroke-width="0.12" >1</text>
<text transform="translate(175.90,330.45) scale(0.94,1)" text-anchor="middle" font-size="6.4" fill="#231f20" stroke="#231f20" stroke-width="0.12" >0</text>
<text transform="translate(46.30,336.55) scale(0.94,1)" text-anchor="middle" font-size="6.4" fill="#231f20" stroke="#231f20" stroke-width="0.12" >51</text>
<text transform="translate(78.70,336.55) scale(0.94,1)" text-anchor="middle" font-size="6.4" fill="#231f20" stroke="#231f20" stroke-width="0.12" >18</text>
<text transform="translate(111.10,336.55) scale(0.94,1)" text-anchor="middle" font-size="6.4" fill="#231f20" stroke="#231f20" stroke-width="0.12" >9</text>
<text transform="translate(143.50,336.55) scale(0.94,1)" text-anchor="middle" font-size="6.4" fill="#231f20" stroke="#231f20" stroke-width="0.12" >5</text>
<text transform="translate(175.90,336.55) scale(0.94,1)" text-anchor="middle" font-size="6.4" fill="#231f20" stroke="#231f20" stroke-width="0.12" >2</text>
<text transform="translate(208.30,336.55) scale(0.94,1)" text-anchor="middle" font-size="6.4" fill="#231f20" stroke="#231f20" stroke-width="0.12" >2</text>
<text transform="translate(240.70,336.55) scale(0.94,1)" text-anchor="middle" font-size="6.4" fill="#231f20" stroke="#231f20" stroke-width="0.12" >1</text>
<text transform="translate(30.30,330.45) scale(0.94,1)" text-anchor="end" font-size="6.4" fill="#231f20" stroke="#231f20" stroke-width="0.12" >No</text>
<text transform="translate(30.30,336.55) scale(0.94,1)" text-anchor="end" font-size="6.4" fill="#231f20" stroke="#231f20" stroke-width="0.12" >Yes</text>
<text transform="translate(17.00,276.00) rotate(-90)" x="-24.85" y="0" font-size="8.4" textLength="49.70" lengthAdjust="spacingAndGlyphs" fill="#231f20" stroke="#231f20" stroke-width="0.25">Survival probability</text>
<text x="72.10" y="360.75" font-size="8.7" textLength="136.30" lengthAdjust="spacingAndGlyphs" word-spacing="1.6" fill="#231f20" stroke="#231f20" stroke-width="0.42" font-weight="normal">OS since 1st progression after administration (months)</text>
<text x="6.80" y="217.80" font-size="10.4" font-weight="bold" fill="#000" stroke="#000" stroke-width="0.7">C</text>
<line x1="128.00" y1="221.30" x2="143.00" y2="221.30" stroke="#cf7f97" stroke-width="0.9" />
<line x1="128.00" y1="227.50" x2="143.00" y2="227.50" stroke="#8ea6c0" stroke-width="0.9" />
<text transform="translate(145.60,223.55) scale(0.94,1)" text-anchor="start" font-size="6.4" fill="#231f20" stroke="#231f20" stroke-width="0.12" >No</text>
<text transform="translate(145.60,229.75) scale(0.94,1)" text-anchor="start" font-size="6.4" fill="#231f20" stroke="#231f20" stroke-width="0.12" >Yes</text>
<text transform="translate(214.10,223.05) scale(0.94,1)" text-anchor="middle" font-size="6.4" fill="#231f20" stroke="#231f20" stroke-width="0.12" >+ Censored</text>
<text transform="translate(213.80,230.55) scale(0.94,1)" text-anchor="middle" font-size="6.4" fill="#231f20" stroke="#231f20" stroke-width="0.12" >Log-rank <tspan font-style="italic">P</tspan> = .0704</text>
<text transform="translate(75.00,370.75) scale(0.94,1)" text-anchor="middle" font-size="6.4" fill="#231f20" stroke="#231f20" stroke-width="0.12" >No. of subjects</text>
<text transform="translate(116.50,370.75) scale(0.94,1)" text-anchor="middle" font-size="6.4" fill="#231f20" stroke="#231f20" stroke-width="0.12" >Event</text>
<text transform="translate(153.10,370.75) scale(0.94,1)" text-anchor="middle" font-size="6.4" fill="#231f20" stroke="#231f20" stroke-width="0.12" >Censored</text>
<text transform="translate(205.00,370.75) scale(0.94,1)" text-anchor="middle" font-size="6.4" fill="#231f20" stroke="#231f20" stroke-width="0.12" >Median survival (95% CI)</text>
<text transform="translate(38.00,379.05) scale(0.94,1)" text-anchor="start" font-size="6.4" fill="#231f20" stroke="#231f20" stroke-width="0.12" >No</text>
<text transform="translate(38.00,386.25) scale(0.94,1)" text-anchor="start" font-size="6.4" fill="#231f20" stroke="#231f20" stroke-width="0.12" >Yes</text>
<text transform="translate(75.00,379.05) scale(0.94,1)" text-anchor="middle" font-size="6.4" fill="#231f20" stroke="#231f20" stroke-width="0.12" >9</text>
<text transform="translate(115.90,379.05) scale(0.94,1)" text-anchor="middle" font-size="6.4" fill="#231f20" stroke="#231f20" stroke-width="0.12" >33.3% (3)</text>
<text transform="translate(153.50,379.05) scale(0.94,1)" text-anchor="middle" font-size="6.4" fill="#231f20" stroke="#231f20" stroke-width="0.12" >66.7% (6)</text>
<text transform="translate(205.60,379.05) scale(0.94,1)" text-anchor="middle" font-size="6.4" fill="#231f20" stroke="#231f20" stroke-width="0.12" >Not reached (3.4 ; NA)</text>
<text transform="translate(75.20,386.25) scale(0.94,1)" text-anchor="middle" font-size="6.4" fill="#231f20" stroke="#231f20" stroke-width="0.12" >51</text>
<text transform="translate(116.50,386.25) scale(0.94,1)" text-anchor="middle" font-size="6.4" fill="#231f20" stroke="#231f20" stroke-width="0.12" >66.7% (34)</text>
<text transform="translate(152.50,386.25) scale(0.94,1)" text-anchor="middle" font-size="6.4" fill="#231f20" stroke="#231f20" stroke-width="0.12" >33.3% (17)</text>
<text transform="translate(205.00,386.25) scale(0.94,1)" text-anchor="middle" font-size="6.4" fill="#231f20" stroke="#231f20" stroke-width="0.12" >4.7 (2.0 ; 9.0)</text>
<rect x="304.00" y="18.30" width="2.00" height="21.70" fill="#f0b8c4" shape-rendering="crispEdges"/>
<rect x="306.00" y="18.30" width="2.00" height="36.70" fill="#f0b8c4" shape-rendering="crispEdges"/>
<rect x="308.00" y="18.30" width="0.20" height="51.70" fill="#f0b8c4" shape-rendering="crispEdges"/>
<rect x="308.20" y="18.30" width="1.80" height="11.70" fill="#b896ac" shape-rendering="crispEdges"/>
<rect x="308.20" y="30.00" width="1.80" height="40.00" fill="#f0b8c4" shape-rendering="crispEdges"/>
<rect x="310.00" y="18.30" width="0.20" height="11.70" fill="#b896ac" shape-rendering="crispEdges"/>
<rect x="310.00" y="30.00" width="0.20" height="55.00" fill="#f0b8c4" shape-rendering="crispEdges"/>
<rect x="310.20" y="18.30" width="0.80" height="0.90" fill="#b896ac" shape-rendering="crispEdges"/>
<rect x="310.20" y="19.20" width="0.80" height="8.80" fill="#a67f88" shape-rendering="crispEdges"/>
<rect x="310.20" y="28.00" width="0.80" height="2.00" fill="#b896ac" shape-rendering="crispEdges"/>
<rect x="310.20" y="30.00" width="0.80" height="55.00" fill="#f0b8c4" shape-rendering="crispEdges"/>
<rect x="311.00" y="18.30" width="0.50" height="0.90" fill="#f0b8c4" shape-rendering="crispEdges"/>
<rect x="311.00" y="19.20" width="0.50" height="8.80" fill="#e4a0a0" shape-rendering="crispEdges"/>
<rect x="311.00" y="28.00" width="0.50" height="27.00" fill="#b896ac" shape-rendering="crispEdges"/>
<rect x="311.00" y="55.00" width="0.50" height="30.00" fill="#f0b8c4" shape-rendering="crispEdges"/>
<rect x="311.50" y="19.20" width="2.90" height="8.80" fill="#f0dec8" shape-rendering="crispEdges"/>
<rect x="311.50" y="28.00" width="2.90" height="22.00" fill="#b5c9db" shape-rendering="crispEdges"/>
<rect x="311.50" y="50.00" width="2.90" height="5.00" fill="#b896ac" shape-rendering="crispEdges"/>
<rect x="311.50" y="55.00" width="2.90" height="40.00" fill="#f0b8c4" shape-rendering="crispEdges"/>
<rect x="314.40" y="19.20" width="5.60" height="8.80" fill="#f0dec8" shape-rendering="crispEdges"/>
<rect x="314.40" y="28.00" width="5.60" height="32.00" fill="#b5c9db" shape-rendering="crispEdges"/>
<rect x="314.40" y="65.20" width="5.60" height="39.80" fill="#f0b8c4" shape-rendering="crispEdges"/>
<rect x="320.00" y="28.40" width="1.40" height="9.60" fill="#f0dec8" shape-rendering="crispEdges"/>
<rect x="320.00" y="38.00" width="1.40" height="22.00" fill="#b0b9be" shape-rendering="crispEdges"/>
<rect x="320.00" y="60.00" width="1.40" height="5.20" fill="#f0dec8" shape-rendering="crispEdges"/>
<rect x="320.00" y="65.20" width="1.40" height="6.80" fill="#e4a0a0" shape-rendering="crispEdges"/>
<rect x="320.00" y="72.00" width="1.40" height="33.00" fill="#f0b8c4" shape-rendering="crispEdges"/>
<rect x="321.40" y="28.40" width="4.60" height="9.60" fill="#f0dec8" shape-rendering="crispEdges"/>
<rect x="321.40" y="38.00" width="4.60" height="27.20" fill="#b0b9be" shape-rendering="crispEdges"/>
<rect x="321.40" y="65.20" width="4.60" height="6.80" fill="#a67f88" shape-rendering="crispEdges"/>
<rect x="321.40" y="72.00" width="4.60" height="1.00" fill="#b896ac" shape-rendering="crispEdges"/>
<rect x="321.40" y="73.00" width="4.60" height="32.00" fill="#f0b8c4" shape-rendering="crispEdges"/>
<rect x="326.00" y="28.40" width="5.00" height="9.60" fill="#f0dec8" shape-rendering="crispEdges"/>
<rect x="326.00" y="38.00" width="5.00" height="27.20" fill="#b0b9be" shape-rendering="crispEdges"/>
<rect x="326.00" y="65.20" width="5.00" height="6.80" fill="#a67f88" shape-rendering="crispEdges"/>
<rect x="326.00" y="72.00" width="5.00" height="3.00" fill="#b896ac" shape-rendering="crispEdges"/>
<rect x="326.00" y="75.00" width="5.00" height="30.00" fill="#f0b8c4" shape-rendering="crispEdges"/>
<rect x="331.00" y="28.40" width="1.00" height="9.60" fill="#f0dec8" shape-rendering="crispEdges"/>
<rect x="331.00" y="38.00" width="1.00" height="27.20" fill="#b0b9be" shape-rendering="crispEdges"/>
<rect x="331.00" y="65.20" width="1.00" height="6.80" fill="#a67f88" shape-rendering="crispEdges"/>
<rect x="331.00" y="72.00" width="1.00" height="8.50" fill="#b896ac" shape-rendering="crispEdges"/>
<rect x="331.00" y="80.50" width="1.00" height="24.50" fill="#f0b8c4" shape-rendering="crispEdges"/>
<rect x="332.00" y="28.40" width="3.40" height="9.60" fill="#f0dec8" shape-rendering="crispEdges"/>
<rect x="332.00" y="38.00" width="3.40" height="27.20" fill="#b0b9be" shape-rendering="crispEdges"/>
<rect x="332.00" y="65.20" width="3.40" height="6.80" fill="#a67f88" shape-rendering="crispEdges"/>
<rect x="332.00" y="72.00" width="3.40" height="8.50" fill="#b896ac" shape-rendering="crispEdges"/>
<rect x="332.00" y="80.50" width="3.40" height="24.50" fill="#f0b8c4" shape-rendering="crispEdges"/>
<rect x="335.40" y="28.40" width="0.60" height="9.60" fill="#f0dec8" shape-rendering="crispEdges"/>
<rect x="335.40" y="38.00" width="0.60" height="34.00" fill="#b0b9be" shape-rendering="crispEdges"/>
<rect x="335.40" y="72.00" width="0.60" height="1.50" fill="#b5c9db" shape-rendering="crispEdges"/>
<rect x="335.40" y="73.50" width="0.60" height="7.00" fill="#b896ac" shape-rendering="crispEdges"/>
<rect x="335.40" y="80.50" width="0.60" height="28.00" fill="#f0b8c4" shape-rendering="crispEdges"/>
<rect x="336.00" y="28.40" width="1.00" height="14.60" fill="#f0dec8" shape-rendering="crispEdges"/>
<rect x="336.00" y="43.00" width="1.00" height="29.00" fill="#b0b9be" shape-rendering="crispEdges"/>
<rect x="336.00" y="72.00" width="1.00" height="1.50" fill="#b5c9db" shape-rendering="crispEdges"/>
<rect x="336.00" y="73.50" width="1.00" height="10.80" fill="#b896ac" shape-rendering="crispEdges"/>
<rect x="336.00" y="84.30" width="1.00" height="24.20" fill="#f0b8c4" shape-rendering="crispEdges"/>
<rect x="337.00" y="37.70" width="3.00" height="5.30" fill="#f0dec8" shape-rendering="crispEdges"/>
<rect x="337.00" y="43.00" width="3.00" height="30.50" fill="#b0b9be" shape-rendering="crispEdges"/>
<rect x="337.00" y="73.50" width="3.00" height="7.00" fill="#a67f88" shape-rendering="crispEdges"/>
<rect x="337.00" y="80.50" width="3.00" height="3.80" fill="#b896ac" shape-rendering="crispEdges"/>
<rect x="337.00" y="84.30" width="3.00" height="24.20" fill="#f0b8c4" shape-rendering="crispEdges"/>
<rect x="340.00" y="37.70" width="3.00" height="5.30" fill="#f0dec8" shape-rendering="crispEdges"/>
<rect x="340.00" y="43.00" width="3.00" height="30.50" fill="#b0b9be" shape-rendering="crispEdges"/>
<rect x="340.00" y="73.50" width="3.00" height="7.00" fill="#a67f88" shape-rendering="crispEdges"/>
<rect x="340.00" y="80.50" width="3.00" height="7.50" fill="#b896ac" shape-rendering="crispEdges"/>
<rect x="340.00" y="88.00" width="3.00" height="20.50" fill="#f0b8c4" shape-rendering="crispEdges"/>
<rect x="343.00" y="37.70" width="2.00" height="5.30" fill="#f0dec8" shape-rendering="crispEdges"/>
<rect x="343.00" y="43.00" width="2.00" height="37.50" fill="#b0b9be" shape-rendering="crispEdges"/>
<rect x="343.00" y="80.50" width="2.00" height="0.20" fill="#b5c9db" shape-rendering="crispEdges"/>
<rect x="343.00" y="80.70" width="2.00" height="7.30" fill="#b896ac" shape-rendering="crispEdges"/>
<rect x="343.00" y="88.00" width="2.00" height="23.90" fill="#f0b8c4" shape-rendering="crispEdges"/>
<rect x="345.00" y="43.40" width="7.00" height="6.10" fill="#f0dec8" shape-rendering="crispEdges"/>
<rect x="345.00" y="49.50" width="7.00" height="31.20" fill="#b0b9be" shape-rendering="crispEdges"/>
<rect x="345.00" y="80.70" width="7.00" height="7.30" fill="#a67f88" shape-rendering="crispEdges"/>
<rect x="345.00" y="88.00" width="7.00" height="23.90" fill="#f0b8c4" shape-rendering="crispEdges"/>
<rect x="352.00" y="49.80" width="14.00" height="2.20" fill="#f0dec8" shape-rendering="crispEdges"/>
<rect x="352.00" y="52.00" width="14.00" height="28.70" fill="#b0b9be" shape-rendering="crispEdges"/>
<rect x="352.00" y="80.70" width="14.00" height="7.30" fill="#a67f88" shape-rendering="crispEdges"/>
<rect x="352.00" y="88.00" width="14.00" height="9.00" fill="#e4a0a0" shape-rendering="crispEdges"/>
<rect x="352.00" y="97.00" width="14.00" height="14.90" fill="#f0b8c4" shape-rendering="crispEdges"/>
<rect x="366.00" y="58.40" width="42.60" height="1.30" fill="#f0dec8" shape-rendering="crispEdges"/>
<rect x="366.00" y="59.70" width="42.60" height="21.00" fill="#b0b9be" shape-rendering="crispEdges"/>
<rect x="366.00" y="80.70" width="42.60" height="17.00" fill="#a67f88" shape-rendering="crispEdges"/>
<rect x="366.00" y="97.70" width="42.60" height="5.30" fill="#e4a0a0" shape-rendering="crispEdges"/>
<rect x="366.00" y="103.00" width="42.60" height="8.90" fill="#f0b8c4" shape-rendering="crispEdges"/>
<rect x="408.60" y="66.60" width="69.10" height="14.10" fill="#b5c9db" shape-rendering="crispEdges"/>
<rect x="408.60" y="80.70" width="69.10" height="24.00" fill="#b896ac" shape-rendering="crispEdges"/>
<rect x="408.60" y="104.70" width="69.10" height="7.20" fill="#f0b8c4" shape-rendering="crispEdges"/>
<rect x="477.70" y="80.70" width="23.80" height="31.20" fill="#f0b8c4" shape-rendering="crispEdges"/>
<path d="M303.80,18.30 H311.00 V23.60 H319.50 V29.00 H321.50 V34.50 H326.00 V39.50 H331.00 V44.50 H335.50 V49.00 H338.00 V54.00 H343.00 V57.00 H345.70 V63.00 H352.30 V67.70 H353.00 V72.00 H364.50 V79.50 H408.60" fill="none" stroke="#b08a6a" stroke-width="0.5"/>
<path d="M303.80,18.30 H308.20 V18.30 H309.70 V22.10 H311.20 V29.20 H312.50 V36.50 H317.10 V38.20 H317.80 V42.00 H321.00 V42.70 H322.20 V45.90 H324.70 V46.50 H325.40 V50.90 H327.00 V52.80 H328.60 V54.70 H329.60 V57.00 H330.50 V59.20 H332.40 V60.80 H334.30 V62.40 H339.30 V66.30 H365.00 V72.60 H366.30 V78.20 H408.60 V87.30 H477.70" fill="none" stroke="#2f5a6c" stroke-width="0.75"/>
<path d="M303.80,18.30 H304.60 V21.00 H305.60 V29.20 H307.00 V33.00 H308.50 V38.00 H310.00 V44.00 H311.20 V52.00 H312.30 V62.00 H313.20 V72.00 H313.80 V80.00 H314.20 V88.20 H335.50 V94.40 H342.60 V101.50 H501.50" fill="none" stroke="#b0436a" stroke-width="0.75"/>
<line x1="360.00" y1="86.90" x2="360.00" y2="89.50" stroke="#b0436a" stroke-width="0.55" />
<line x1="368.00" y1="100.20" x2="368.00" y2="102.80" stroke="#b0436a" stroke-width="0.55" />
<line x1="425.00" y1="100.20" x2="425.00" y2="102.80" stroke="#b0436a" stroke-width="0.55" />
<line x1="501.50" y1="100.20" x2="501.50" y2="102.80" stroke="#b0436a" stroke-width="0.55" />
<line x1="352.00" y1="65.00" x2="352.00" y2="67.60" stroke="#2f5a6c" stroke-width="0.55" />
<line x1="379.00" y1="76.90" x2="379.00" y2="79.50" stroke="#2f5a6c" stroke-width="0.55" />
<line x1="394.00" y1="76.90" x2="394.00" y2="79.50" stroke="#2f5a6c" stroke-width="0.55" />
<line x1="420.00" y1="86.00" x2="420.00" y2="88.60" stroke="#2f5a6c" stroke-width="0.55" />
<line x1="430.00" y1="86.00" x2="430.00" y2="88.60" stroke="#2f5a6c" stroke-width="0.55" />
<line x1="477.70" y1="86.00" x2="477.70" y2="88.60" stroke="#2f5a6c" stroke-width="0.55" />
<line x1="293.50" y1="16.20" x2="293.50" y2="139.50" stroke="#231f20" stroke-width="1.15" />
<line x1="290.50" y1="114.30" x2="293.50" y2="114.30" stroke="#231f20" stroke-width="0.95" />
<text transform="translate(287.60,116.55) scale(0.94,1)" text-anchor="end" font-size="6.4" fill="#231f20" stroke="#231f20" stroke-width="0.12" >0.0</text>
<line x1="290.50" y1="95.10" x2="293.50" y2="95.10" stroke="#231f20" stroke-width="0.95" />
<text transform="translate(287.60,97.35) scale(0.94,1)" text-anchor="end" font-size="6.4" fill="#231f20" stroke="#231f20" stroke-width="0.12" >0.2</text>
<line x1="290.50" y1="75.90" x2="293.50" y2="75.90" stroke="#231f20" stroke-width="0.95" />
<text transform="translate(287.60,78.15) scale(0.94,1)" text-anchor="end" font-size="6.4" fill="#231f20" stroke="#231f20" stroke-width="0.12" >0.4</text>
<line x1="290.50" y1="56.70" x2="293.50" y2="56.70" stroke="#231f20" stroke-width="0.95" />
<text transform="translate(287.60,58.95) scale(0.94,1)" text-anchor="end" font-size="6.4" fill="#231f20" stroke="#231f20" stroke-width="0.12" >0.6</text>
<line x1="290.50" y1="37.50" x2="293.50" y2="37.50" stroke="#231f20" stroke-width="0.95" />
<text transform="translate(287.60,39.75) scale(0.94,1)" text-anchor="end" font-size="6.4" fill="#231f20" stroke="#231f20" stroke-width="0.12" >0.8</text>
<line x1="290.50" y1="18.30" x2="293.50" y2="18.30" stroke="#231f20" stroke-width="0.95" />
<text transform="translate(287.60,20.55) scale(0.94,1)" text-anchor="end" font-size="6.4" fill="#231f20" stroke="#231f20" stroke-width="0.12" >1.0</text>
<line x1="292.95" y1="138.90" x2="501.70" y2="138.90" stroke="#231f20" stroke-width="1.15" />
<line x1="304.00" y1="138.90" x2="304.00" y2="141.90" stroke="#231f20" stroke-width="0.95" />
<text transform="translate(304.00,150.55) scale(0.94,1)" text-anchor="middle" font-size="6.4" fill="#231f20" stroke="#231f20" stroke-width="0.12" >0</text>
<line x1="320.15" y1="138.90" x2="320.15" y2="141.90" stroke="#231f20" stroke-width="0.95" />
<text transform="translate(320.15,150.55) scale(0.94,1)" text-anchor="middle" font-size="6.4" fill="#231f20" stroke="#231f20" stroke-width="0.12" >3</text>
<line x1="336.30" y1="138.90" x2="336.30" y2="141.90" stroke="#231f20" stroke-width="0.95" />
<text transform="translate(336.30,150.55) scale(0.94,1)" text-anchor="middle" font-size="6.4" fill="#231f20" stroke="#231f20" stroke-width="0.12" >6</text>
<line x1="368.60" y1="138.90" x2="368.60" y2="141.90" stroke="#231f20" stroke-width="0.95" />
<text transform="translate(368.60,150.55) scale(0.94,1)" text-anchor="middle" font-size="6.4" fill="#231f20" stroke="#231f20" stroke-width="0.12" >12</text>
<line x1="400.90" y1="138.90" x2="400.90" y2="141.90" stroke="#231f20" stroke-width="0.95" />
<text transform="translate(400.90,150.55) scale(0.94,1)" text-anchor="middle" font-size="6.4" fill="#231f20" stroke="#231f20" stroke-width="0.12" >18</text>
<line x1="433.20" y1="138.90" x2="433.20" y2="141.90" stroke="#231f20" stroke-width="0.95" />
<text transform="translate(433.20,150.55) scale(0.94,1)" text-anchor="middle" font-size="6.4" fill="#231f20" stroke="#231f20" stroke-width="0.12" >24</text>
<line x1="465.50" y1="138.90" x2="465.50" y2="141.90" stroke="#231f20" stroke-width="0.95" />
<text transform="translate(465.50,150.55) scale(0.94,1)" text-anchor="middle" font-size="6.4" fill="#231f20" stroke="#231f20" stroke-width="0.12" >30</text>
<line x1="497.80" y1="138.90" x2="497.80" y2="141.90" stroke="#231f20" stroke-width="0.95" />
<text transform="translate(497.80,150.55) scale(0.94,1)" text-anchor="middle" font-size="6.4" fill="#231f20" stroke="#231f20" stroke-width="0.12" >36</text>
<text transform="translate(304.00,125.35) scale(0.94,1)" text-anchor="middle" font-size="6.4" fill="#231f20" stroke="#231f20" stroke-width="0.12" >17</text>
<text transform="translate(336.30,125.35) scale(0.94,1)" text-anchor="middle" font-size="6.4" fill="#231f20" stroke="#231f20" stroke-width="0.12" >3</text>
<text transform="translate(368.60,125.35) scale(0.94,1)" text-anchor="middle" font-size="6.4" fill="#231f20" stroke="#231f20" stroke-width="0.12" >2</text>
<text transform="translate(400.90,125.35) scale(0.94,1)" text-anchor="middle" font-size="6.4" fill="#231f20" stroke="#231f20" stroke-width="0.12" >1</text>
<text transform="translate(433.20,125.35) scale(0.94,1)" text-anchor="middle" font-size="6.4" fill="#231f20" stroke="#231f20" stroke-width="0.12" >1</text>
<text transform="translate(465.50,125.35) scale(0.94,1)" text-anchor="middle" font-size="6.4" fill="#231f20" stroke="#231f20" stroke-width="0.12" >1</text>
<text transform="translate(497.80,125.35) scale(0.94,1)" text-anchor="middle" font-size="6.4" fill="#231f20" stroke="#231f20" stroke-width="0.12" >1</text>
<text transform="translate(304.00,131.05) scale(0.94,1)" text-anchor="middle" font-size="6.4" fill="#231f20" stroke="#231f20" stroke-width="0.12" >25</text>
<text transform="translate(336.30,131.05) scale(0.94,1)" text-anchor="middle" font-size="6.4" fill="#231f20" stroke="#231f20" stroke-width="0.12" >12</text>
<text transform="translate(368.60,131.05) scale(0.94,1)" text-anchor="middle" font-size="6.4" fill="#231f20" stroke="#231f20" stroke-width="0.12" >6</text>
<text transform="translate(400.90,131.05) scale(0.94,1)" text-anchor="middle" font-size="6.4" fill="#231f20" stroke="#231f20" stroke-width="0.12" >4</text>
<text transform="translate(433.20,131.05) scale(0.94,1)" text-anchor="middle" font-size="6.4" fill="#231f20" stroke="#231f20" stroke-width="0.12" >1</text>
<text transform="translate(465.50,131.05) scale(0.94,1)" text-anchor="middle" font-size="6.4" fill="#231f20" stroke="#231f20" stroke-width="0.12" >1</text>
<text transform="translate(497.80,131.05) scale(0.94,1)" text-anchor="middle" font-size="6.4" fill="#231f20" stroke="#231f20" stroke-width="0.12" >0</text>
<text transform="translate(304.00,136.85) scale(0.94,1)" text-anchor="middle" font-size="6.4" fill="#231f20" stroke="#231f20" stroke-width="0.12" >18</text>
<text transform="translate(336.30,136.85) scale(0.94,1)" text-anchor="middle" font-size="6.4" fill="#231f20" stroke="#231f20" stroke-width="0.12" >9</text>
<text transform="translate(368.60,136.85) scale(0.94,1)" text-anchor="middle" font-size="6.4" fill="#231f20" stroke="#231f20" stroke-width="0.12" >3</text>
<text transform="translate(400.90,136.85) scale(0.94,1)" text-anchor="middle" font-size="6.4" fill="#231f20" stroke="#231f20" stroke-width="0.12" >1</text>
<text transform="translate(433.20,136.85) scale(0.94,1)" text-anchor="middle" font-size="6.4" fill="#231f20" stroke="#231f20" stroke-width="0.12" >0</text>
<text transform="translate(287.50,125.35) scale(0.94,1)" text-anchor="end" font-size="6.4" fill="#231f20" stroke="#231f20" stroke-width="0.12" >[D1- M3]</text>
<text transform="translate(287.50,131.05) scale(0.94,1)" text-anchor="end" font-size="6.4" fill="#231f20" stroke="#231f20" stroke-width="0.12" >[M3; M6]</text>
<text transform="translate(287.50,136.85) scale(0.94,1)" text-anchor="end" font-size="6.4" fill="#231f20" stroke="#231f20" stroke-width="0.12" >[M6; Y2]</text>
<text transform="translate(274.10,66.00) rotate(-90)" x="-24.45" y="0" font-size="8.4" textLength="48.90" lengthAdjust="spacingAndGlyphs" fill="#231f20" stroke="#231f20" stroke-width="0.25">Survival probability</text>
<text x="328.80" y="162.35" font-size="8.7" textLength="135.80" lengthAdjust="spacingAndGlyphs" word-spacing="1.6" fill="#231f20" stroke="#231f20" stroke-width="0.42" font-weight="normal">OS since 1st progression after administration (months)</text>
<text x="257.30" y="15.60" font-size="10.4" font-weight="bold" fill="#000" stroke="#000" stroke-width="0.7">B</text>
<line x1="379.80" y1="21.70" x2="394.40" y2="21.70" stroke="#c4738b" stroke-width="0.9" />
<line x1="379.80" y1="28.30" x2="394.40" y2="28.30" stroke="#4d6d7b" stroke-width="0.9" />
<line x1="379.80" y1="34.40" x2="394.40" y2="34.40" stroke="#928272" stroke-width="0.9" />
<text transform="translate(397.40,24.15) scale(0.94,1)" text-anchor="start" font-size="6.4" fill="#231f20" stroke="#231f20" stroke-width="0.12" >[D1 - M3]</text>
<text transform="translate(397.40,30.45) scale(0.94,1)" text-anchor="start" font-size="6.4" fill="#231f20" stroke="#231f20" stroke-width="0.12" >[M3 ; M6]</text>
<text transform="translate(397.40,36.55) scale(0.94,1)" text-anchor="start" font-size="6.4" fill="#231f20" stroke="#231f20" stroke-width="0.12" >[M6 ; Y2]</text>
<text transform="translate(471.50,23.85) scale(0.94,1)" text-anchor="middle" font-size="6.4" fill="#231f20" stroke="#231f20" stroke-width="0.12" >+ Censored</text>
<text transform="translate(471.00,31.65) scale(0.94,1)" text-anchor="middle" font-size="6.4" fill="#231f20" stroke="#231f20" stroke-width="0.12" >Log-rank <tspan font-style="italic">P</tspan> = .0137</text>
<text transform="translate(354.60,171.55) scale(0.94,1)" text-anchor="middle" font-size="6.4" fill="#231f20" stroke="#231f20" stroke-width="0.12" >No. of subjects</text>
<text transform="translate(394.30,171.55) scale(0.94,1)" text-anchor="middle" font-size="6.4" fill="#231f20" stroke="#231f20" stroke-width="0.12" >Event</text>
<text transform="translate(428.00,171.55) scale(0.94,1)" text-anchor="middle" font-size="6.4" fill="#231f20" stroke="#231f20" stroke-width="0.12" >Censored</text>
<text transform="translate(480.20,171.55) scale(0.94,1)" text-anchor="middle" font-size="6.4" fill="#231f20" stroke="#231f20" stroke-width="0.12" >Median survival (95% CI)</text>
<text transform="translate(304.00,180.05) scale(0.94,1)" text-anchor="start" font-size="6.4" fill="#231f20" stroke="#231f20" stroke-width="0.12" >[D1 - M3]</text>
<text transform="translate(354.40,180.05) scale(0.94,1)" text-anchor="middle" font-size="6.4" fill="#231f20" stroke="#231f20" stroke-width="0.12" >17</text>
<text transform="translate(393.60,180.05) scale(0.94,1)" text-anchor="middle" font-size="6.4" fill="#231f20" stroke="#231f20" stroke-width="0.12" >76.5% (13)</text>
<text transform="translate(428.30,180.05) scale(0.94,1)" text-anchor="middle" font-size="6.4" fill="#231f20" stroke="#231f20" stroke-width="0.12" >23.5% (4)</text>
<text transform="translate(480.20,180.05) scale(0.94,1)" text-anchor="middle" font-size="6.4" fill="#231f20" stroke="#231f20" stroke-width="0.12" >1.8 (1.1; 5.8)</text>
<text transform="translate(304.00,187.65) scale(0.94,1)" text-anchor="start" font-size="6.4" fill="#231f20" stroke="#231f20" stroke-width="0.12" >[M3 ; M6]</text>
<text transform="translate(354.40,187.65) scale(0.94,1)" text-anchor="middle" font-size="6.4" fill="#231f20" stroke="#231f20" stroke-width="0.12" >25</text>
<text transform="translate(393.60,187.65) scale(0.94,1)" text-anchor="middle" font-size="6.4" fill="#231f20" stroke="#231f20" stroke-width="0.12" >60% (15)</text>
<text transform="translate(428.30,187.65) scale(0.94,1)" text-anchor="middle" font-size="6.4" fill="#231f20" stroke="#231f20" stroke-width="0.12" >40% (10)</text>
<text transform="translate(480.20,187.65) scale(0.94,1)" text-anchor="middle" font-size="6.4" fill="#231f20" stroke="#231f20" stroke-width="0.12" >6.7 (3.4; NA)</text>
<text transform="translate(304.00,195.15) scale(0.94,1)" text-anchor="start" font-size="6.4" fill="#231f20" stroke="#231f20" stroke-width="0.12" >[M6 ; Y2]</text>
<text transform="translate(354.40,195.15) scale(0.94,1)" text-anchor="middle" font-size="6.4" fill="#231f20" stroke="#231f20" stroke-width="0.12" >18</text>
<text transform="translate(393.60,195.15) scale(0.94,1)" text-anchor="middle" font-size="6.4" fill="#231f20" stroke="#231f20" stroke-width="0.12" >50% (9)</text>
<text transform="translate(428.30,195.15) scale(0.94,1)" text-anchor="middle" font-size="6.4" fill="#231f20" stroke="#231f20" stroke-width="0.12" >50% (9)</text>
<text transform="translate(480.20,195.15) scale(0.94,1)" text-anchor="middle" font-size="6.4" fill="#231f20" stroke="#231f20" stroke-width="0.12" >9.0 (3.3; NA)</text>
</svg><div class="frame"></div></div>
</body></html>
